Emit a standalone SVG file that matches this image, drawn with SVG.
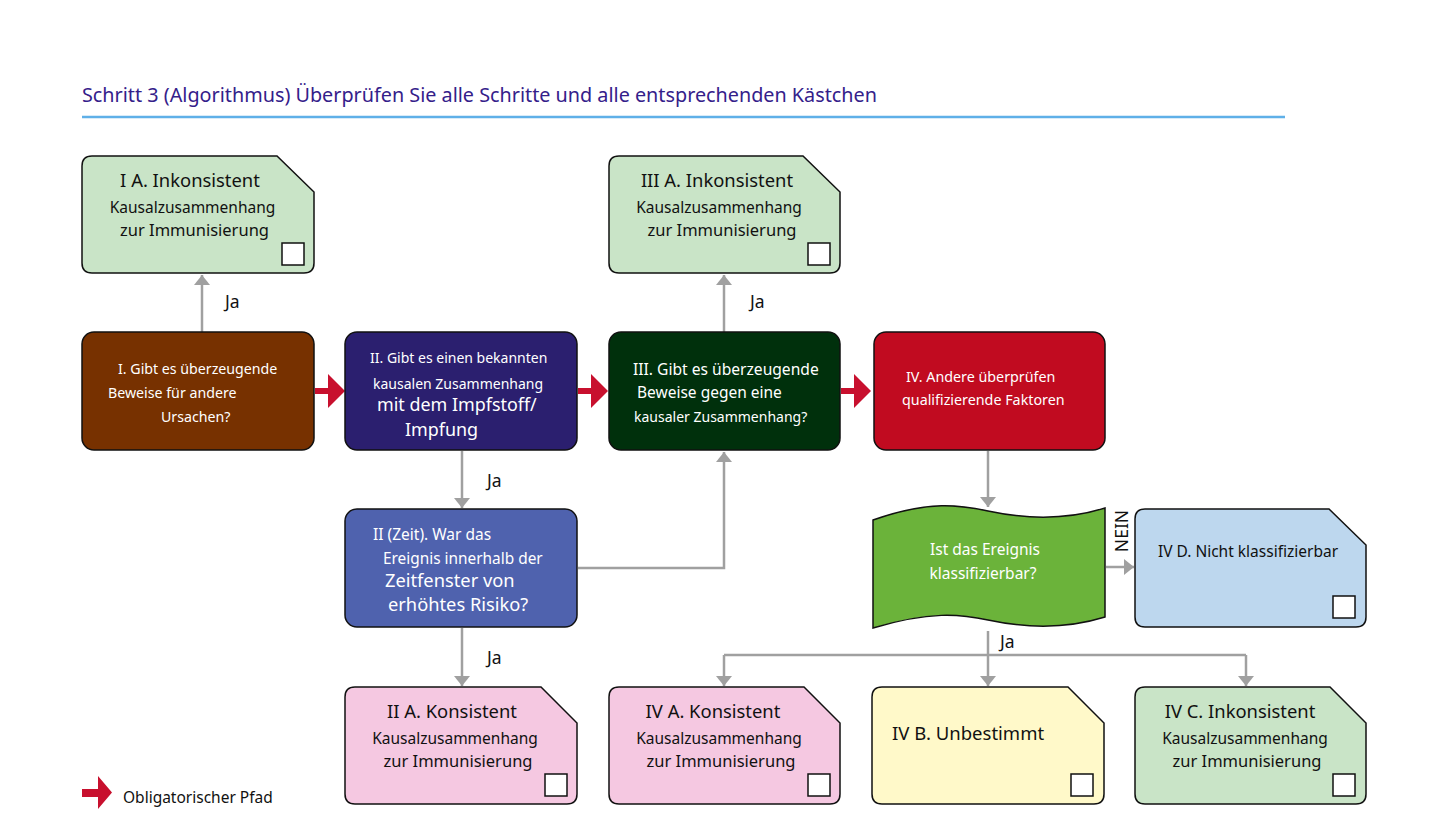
<svg xmlns="http://www.w3.org/2000/svg" width="1456" height="823" viewBox="0 0 1456 823">
<style>
text{font-family:"Noto Sans","Open Sans","DejaVu Sans",sans-serif}
.box{stroke:#111;stroke-width:1.5}
.w{fill:#fff}
.k{fill:#111}
.cb{fill:#fff;stroke:#111;stroke-width:1.5}
.c{fill:none;stroke:#a0a0a0;stroke-width:2.5}
.red{fill:#c8102e}
.m{text-anchor:middle}
</style>
<defs>
<marker id="ah" viewBox="0 0 10 16" refX="10" refY="8" markerWidth="10" markerHeight="16" markerUnits="userSpaceOnUse" orient="auto">
<path d="M0,0 L10,8 L0,16 Z" fill="#a0a0a0"/>
</marker>
</defs>
<rect width="1456" height="823" fill="#fff"/>
<text x="82" y="102" font-size="19.8" fill="#34208a">Schritt 3 (Algorithmus) Überprüfen Sie alle Schritte und alle entsprechenden Kästchen</text>
<line x1="82" y1="117" x2="1285" y2="117" stroke="#5fb0e8" stroke-width="2.5"/>

<g id="connectors">
<path class="c" d="M202,332 V275" marker-end="url(#ah)"/>
<path class="c" d="M724,332 V275" marker-end="url(#ah)"/>
<path class="c" d="M462,451 V508" marker-end="url(#ah)"/>
<path class="c" d="M578,568 H724 V452" marker-end="url(#ah)"/>
<path class="c" d="M462,628 V686" marker-end="url(#ah)"/>
<path class="c" d="M988,451 V507" marker-end="url(#ah)"/>
<path class="c" d="M1106,567 H1134" marker-end="url(#ah)"/>
<path class="c" d="M988,631 V655"/>
<path class="c" d="M724,655 H1246"/>
<path class="c" d="M724,655 V686" marker-end="url(#ah)"/>
<path class="c" d="M988,655 V686" marker-end="url(#ah)"/>
<path class="c" d="M1246,655 V686" marker-end="url(#ah)"/>
<path class="red" d="M315,388 H328 V374 L345,391 L328,408 V394 H315 Z"/>
<path class="red" d="M578,388 H591 V374 L608,391 L591,408 V394 H578 Z"/>
<path class="red" d="M841,388 H854 V374 L871,391 L854,408 V394 H841 Z"/>
<text x="225" y="308" font-size="17.5" class="k">Ja</text>
<text x="750" y="308" font-size="17.5" class="k">Ja</text>
<text x="487" y="487" font-size="17.5" class="k">Ja</text>
<text x="487" y="664" font-size="17.5" class="k">Ja</text>
<text x="1000" y="648" font-size="17.5" class="k">Ja</text>
<text transform="translate(1128,531) rotate(-90)" font-size="17.5" class="k m">NEIN</text>
</g>

<g id="nodeIA">
<path class="box" fill="#c9e4c7" d="M92,156 H277 L314,192 V263 Q314,273 304,273 H92 Q82,273 82,263 V166 Q82,156 92,156 Z"/>
<rect class="cb" x="282" y="243" width="22" height="22"/>
<text x="190" y="187" font-size="18.4" class="k m">I A. Inkonsistent</text>
<text x="192.5" y="213" font-size="15.5" class="k m">Kausalzusammenhang</text>
<text x="194.5" y="236" font-size="16.5" class="k m">zur Immunisierung</text>
</g>

<g id="nodeIIIA">
<path class="box" fill="#c9e4c7" d="M619,156 H803 L840,192 V263 Q840,273 830,273 H619 Q609,273 609,263 V166 Q609,156 619,156 Z"/>
<rect class="cb" x="808" y="243" width="22" height="22"/>
<text x="717" y="187" font-size="18.4" class="k m">III A. Inkonsistent</text>
<text x="719" y="213" font-size="15.5" class="k m">Kausalzusammenhang</text>
<text x="722" y="236" font-size="16.5" class="k m">zur Immunisierung</text>
</g>

<g id="nodeI">
<rect class="box" x="82" y="332" width="232" height="118" rx="12" fill="#773100"/>
<text x="118" y="374" font-size="14.2" class="w">I. Gibt es überzeugende</text>
<text x="108" y="398" font-size="14.2" class="w">Beweise für andere</text>
<text x="161" y="422" font-size="14.2" class="w">Ursachen?</text>
</g>

<g id="nodeII">
<rect class="box" x="345" y="332" width="232" height="118" rx="12" fill="#2b1f6f"/>
<text x="370" y="363" font-size="14" class="w">II. Gibt es einen bekannten</text>
<text x="373" y="389" font-size="14" class="w">kausalen Zusammenhang</text>
<text x="377" y="411" font-size="17.9" class="w">mit dem Impfstoff/</text>
<text x="405" y="436" font-size="17.9" class="w">Impfung</text>
</g>

<g id="nodeIII">
<rect class="box" x="609" y="332" width="231" height="118" rx="12" fill="#00300c"/>
<text x="633" y="375" font-size="15.6" class="w">III. Gibt es überzeugende</text>
<text x="637" y="398" font-size="15.5" class="w">Beweise gegen eine</text>
<text x="634" y="422" font-size="14" class="w">kausaler Zusammenhang?</text>
</g>

<g id="nodeIV">
<rect class="box" x="874" y="332" width="231" height="118" rx="12" fill="#c10b20"/>
<text x="906" y="382" font-size="14.3" class="w">IV. Andere überprüfen</text>
<text x="902" y="405" font-size="14.3" class="w">qualifizierende Faktoren</text>
</g>

<g id="nodeIIZeit">
<rect class="box" x="345" y="509" width="232" height="118" rx="12" fill="#4f62ae"/>
<text x="373" y="540" font-size="15.5" class="w">II (Zeit). War das</text>
<text x="383" y="564" font-size="15.4" class="w">Ereignis innerhalb der</text>
<text x="385" y="587" font-size="18.3" class="w">Zeitfenster von</text>
<text x="388" y="611" font-size="18.3" class="w">erhöhtes Risiko?</text>
</g>

<g id="nodeKlass">
<path class="box" fill="#6bb33a" d="M873,520 C930,500 960,505 988,511 S1060,522 1105,508 V617 C1060,631 1016,626 988,620 S930,611 873,628 Z"/>
<text x="985" y="555" font-size="15.5" class="w m">Ist das Ereignis</text>
<text x="983" y="579" font-size="15.5" class="w m">klassifizierbar?</text>
</g>

<g id="nodeIVD">
<path class="box" fill="#bdd7ee" d="M1145,509 H1329 L1366,545 V617 Q1366,627 1356,627 H1145 Q1135,627 1135,617 V519 Q1135,509 1145,509 Z"/>
<rect class="cb" x="1333" y="596" width="22" height="22"/>
<text x="1248" y="557" font-size="15.5" class="k m">IV D. Nicht klassifizierbar</text>
</g>

<g id="nodeIIA">
<path class="box" fill="#f5c8e1" d="M355,687 H541 L577,723 V794 Q577,804 567,804 H355 Q345,804 345,794 V697 Q345,687 355,687 Z"/>
<rect class="cb" x="545" y="774" width="22" height="22"/>
<text x="452" y="718" font-size="18.4" class="k m">II A. Konsistent</text>
<text x="455" y="744" font-size="15.5" class="k m">Kausalzusammenhang</text>
<text x="458" y="767" font-size="16.5" class="k m">zur Immunisierung</text>
</g>

<g id="nodeIVA">
<path class="box" fill="#f5c8e1" d="M619,687 H804 L840,723 V794 Q840,804 830,804 H619 Q609,804 609,794 V697 Q609,687 619,687 Z"/>
<rect class="cb" x="808" y="774" width="22" height="22"/>
<text x="713" y="718" font-size="18.4" class="k m">IV A. Konsistent</text>
<text x="719" y="744" font-size="15.5" class="k m">Kausalzusammenhang</text>
<text x="721" y="767" font-size="16.5" class="k m">zur Immunisierung</text>
</g>

<g id="nodeIVB">
<path class="box" fill="#fff9c9" d="M882,687 H1068 L1104,723 V794 Q1104,804 1094,804 H882 Q872,804 872,794 V697 Q872,687 882,687 Z"/>
<rect class="cb" x="1071" y="774" width="22" height="22"/>
<text x="892" y="740" font-size="18.5" class="k">IV B. Unbestimmt</text>
</g>

<g id="nodeIVC">
<path class="box" fill="#c9e4c7" d="M1145,687 H1330 L1366,723 V794 Q1366,804 1356,804 H1145 Q1135,804 1135,794 V697 Q1135,687 1145,687 Z"/>
<rect class="cb" x="1333" y="774" width="22" height="22"/>
<text x="1240" y="718" font-size="18.4" class="k m">IV C. Inkonsistent</text>
<text x="1245" y="744" font-size="15.5" class="k m">Kausalzusammenhang</text>
<text x="1247" y="767" font-size="16.5" class="k m">zur Immunisierung</text>
</g>

<g id="legend">
<path class="red" d="M82,789 H98 V776 L112,792.5 L98,809 V797 H82 Z"/>
<text x="123" y="803" font-size="15.5" class="k">Obligatorischer Pfad</text>
</g>
</svg>
